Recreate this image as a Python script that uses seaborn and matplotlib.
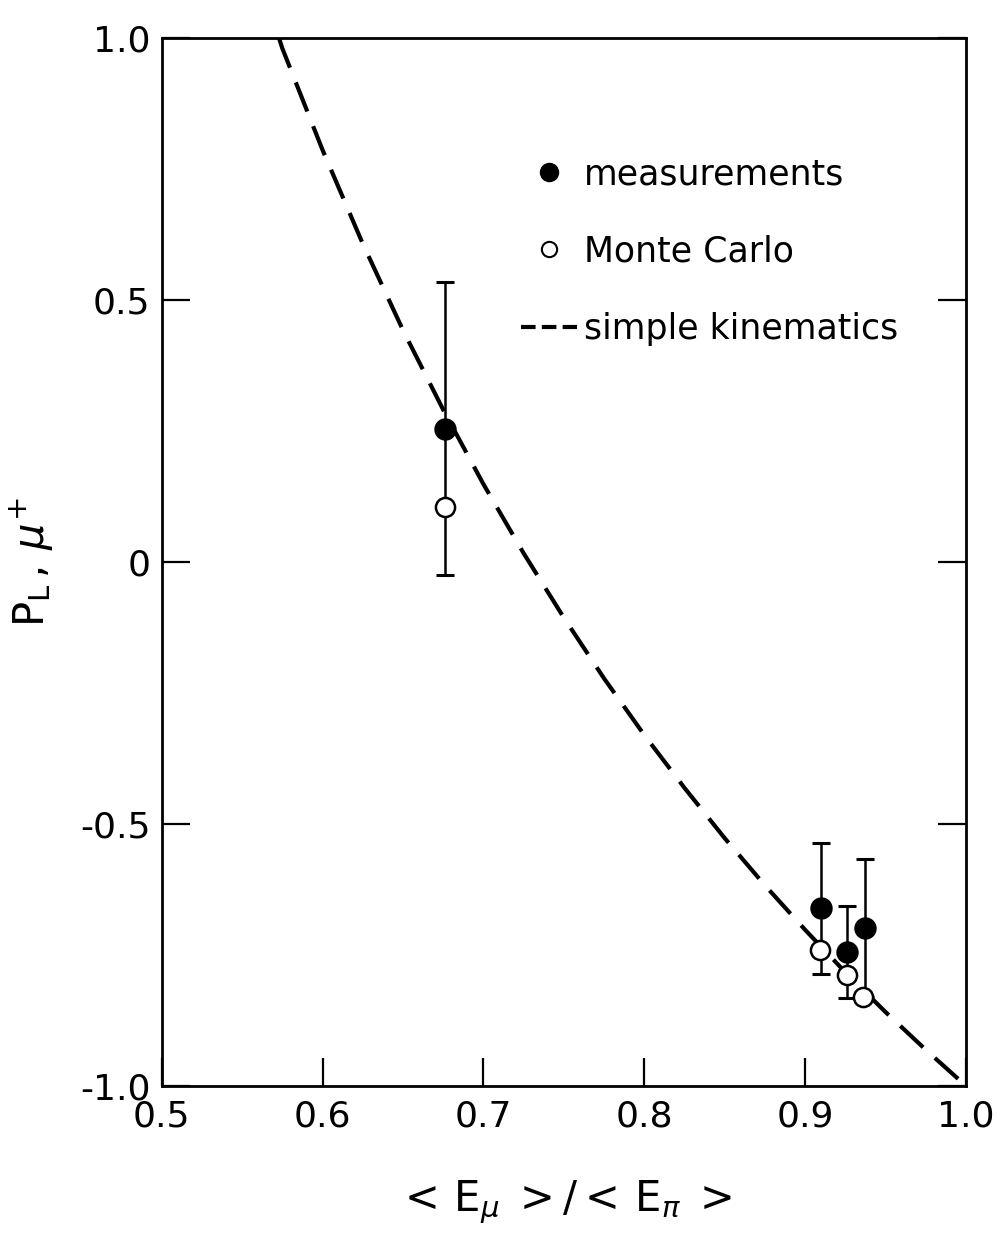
import numpy as np
import pandas as pd
import matplotlib
matplotlib.use("Agg")
import matplotlib.pyplot as plt
from matplotlib.lines import Line2D
import seaborn as sns

# measurements (filled circles) with symmetric errors
meas_x = [0.676, 0.910, 0.926, 0.937]
meas_y = [0.255, -0.661, -0.744, -0.698]
meas_err = [0.28, 0.125, 0.088, 0.132]

# Monte Carlo (open circles)
mc_x = [0.676, 0.909, 0.926, 0.936]
mc_y = [0.106, -0.741, -0.788, -0.830]

# simple kinematics curve
kin_x = [0.573, 0.575, 0.600, 0.625, 0.650, 0.675, 0.700, 0.725, 0.750, 0.775,
         0.800, 0.825, 0.850, 0.875, 0.900, 0.925, 0.950, 0.975, 1.000]
kin_y = [1.000, 0.981, 0.787, 0.608, 0.443, 0.291, 0.149, 0.017, -0.106, -0.222,
         -0.330, -0.431, -0.527, -0.617, -0.702, -0.783, -0.859, -0.931, -1.000]

x_ticks = [0.5, 0.6, 0.7, 0.8, 0.9, 1.0]
x_labels = ["0.5", "0.6", "0.7", "0.8", "0.9", "1.0"]
y_ticks = [-1.0, -0.5, 0.0, 0.5, 1.0]
y_labels = ["-1.0", "-0.5", "0", "0.5", "1.0"]

sns.set_style("ticks")
plt.rcParams["font.family"] = ["DejaVu Sans"]
plt.rcParams["mathtext.fontset"] = "dejavusans"
plt.rcParams["text.color"] = "black"
plt.rcParams["axes.labelcolor"] = "black"
plt.rcParams["xtick.color"] = "black"
plt.rcParams["ytick.color"] = "black"

fig = plt.figure(figsize=(9.98, 12.39), dpi=100)
ax = fig.add_axes([0.162, 0.1235, 0.806, 0.8455])

kin = pd.DataFrame({"x": kin_x, "y": kin_y})
sns.lineplot(data=kin, x="x", y="y", ax=ax, color="black", lw=3.0,
             dashes=False, estimator=None, sort=False, zorder=2)
ax.lines[-1].set_dashes((7.5, 3.8))

ax.errorbar(meas_x, meas_y, yerr=meas_err, fmt="none", ecolor="black",
            elinewidth=1.8, capsize=6.5, capthick=2.2, zorder=3)

mc = pd.DataFrame({"x": mc_x, "y": mc_y})
sns.scatterplot(data=mc, x="x", y="y", ax=ax, s=190, marker="o",
                facecolor="white", edgecolor="black", linewidth=1.8, zorder=4)

meas = pd.DataFrame({"x": meas_x, "y": meas_y})
sns.scatterplot(data=meas, x="x", y="y", ax=ax, s=260, marker="o",
                color="black", edgecolor="black", linewidth=0, zorder=5)

ax.set_xlim(0.5, 1.0)
ax.set_ylim(-1.0, 1.0)
ax.set_xticks(x_ticks)
ax.set_xticklabels(x_labels, fontsize=26)
ax.set_yticks(y_ticks)
ax.set_yticklabels(y_labels, fontsize=26)
ax.tick_params(axis="both", direction="in", length=20, width=1.6,
               top=False, right=True, color="black")
ax.tick_params(axis="x", pad=10)
ax.tick_params(axis="y", pad=8)
for s in ax.spines.values():
    s.set_linewidth(2.0)
    s.set_color("black")

ax.set_xlabel(r"$<\,\mathrm{E}_{\mu}\;>/<\,\mathrm{E}_{\pi}\;>$", fontsize=30, labelpad=32)
ax.set_ylabel(r"$\mathrm{P}_{\mathrm{L}}\,,\,\mu^{+}$", fontsize=30, labelpad=18)

handles = [
    Line2D([], [], marker="o", ls="none", color="black", markersize=13),
    Line2D([], [], marker="o", ls="none", markerfacecolor="white",
           markeredgecolor="black", markersize=11, markeredgewidth=1.5),
    Line2D([], [], ls=(0, (3.5, 1.5)), color="black", lw=3),
]
ax.legend(handles, ["measurements", "Monte Carlo", "simple kinematics"],
          loc="upper left", bbox_to_anchor=(0.43, 0.9), frameon=False,
          fontsize=25, handlelength=1.6, handletextpad=0.2, labelspacing=1.25,
          borderaxespad=0)

fig.savefig("out.png", dpi=100)
